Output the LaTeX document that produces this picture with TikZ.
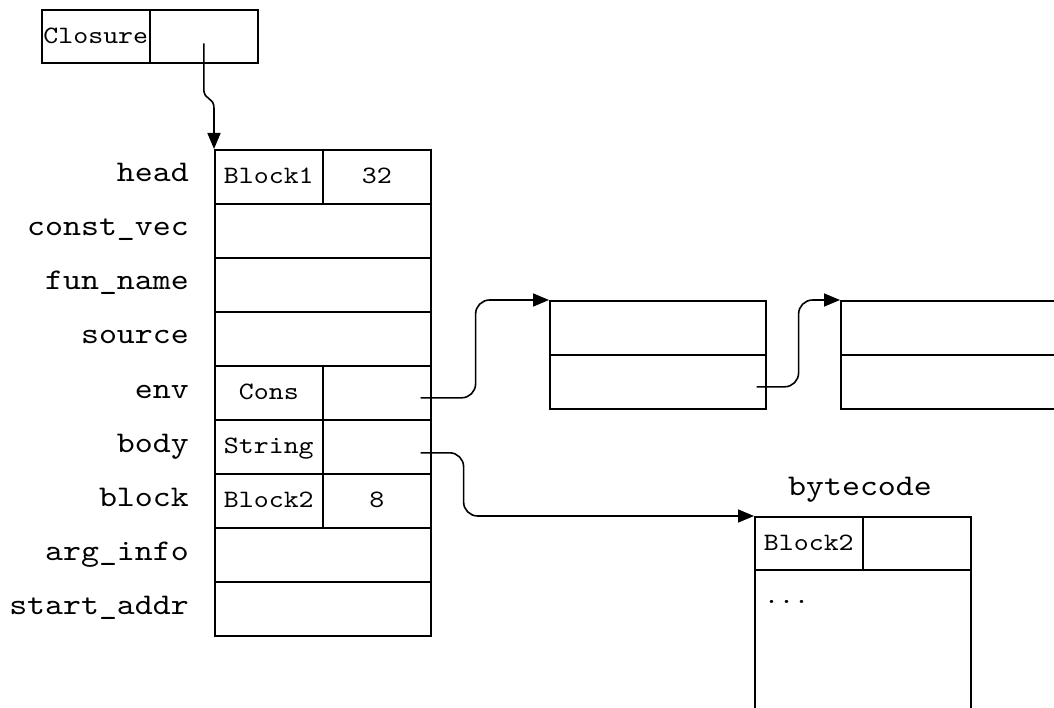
\documentclass[tikz,border=0pt]{standalone}
\usepackage{fontspec}
\setmonofont{lmmono10-regular.otf}[FakeStretch=1.14]
\usetikzlibrary{arrows.meta,calc}
\begin{document}
\begin{tikzpicture}[x=1pt,y=-1pt,
  cell/.style={draw,line width=1.6pt,inner sep=0pt,minimum width=108pt,minimum height=54pt,anchor=north west,font=\fontsize{25}{25}\selectfont\ttfamily,text height=14pt,text depth=0pt},
  wide/.style={cell,minimum width=216pt},
  lbl/.style={anchor=base east,inner sep=0pt,font=\fontsize{30}{30}\selectfont\ttfamily},
  link/.style={line width=1.6pt,-{Triangle[length=16pt,width=13pt]},rounded corners=14pt}]
\useasboundingbox (0,0) rectangle (1054,708);
\clip (0,0) rectangle (1054,708);
% Closure
\node[cell,minimum height=53pt] (closA) at (41,9) {Closure};
\node[cell,minimum height=53pt] (closB) at (149,9) {};
% main struct
\node[cell] (head1) at (214,149) {Block1};
\node[cell] (head2) at (322,149) {32};
\node[wide] (constvec) at (214,203) {};
\node[wide] (funname) at (214,257) {};
\node[wide] (source) at (214,311) {};
\node[cell] (env1) at (214,365) {Cons};
\node[cell] (env2) at (322,365) {};
\node[cell] (body1) at (214,419) {String};
\node[cell] (body2) at (322,419) {};
\node[cell] (blk1) at (214,473) {Block2};
\node[cell] (blk2) at (322,473) {8};
\node[wide] (arginfo) at (214,527) {};
\node[wide] (startaddr) at (214,581) {};
% labels
\node[lbl] (Lhead) at (189,182) {head};
\node[lbl] (Lconst) at (189,236) {const\_vec};
\node[lbl] (Lfun) at (189,290) {fun\_name};
\node[lbl] (Lsource) at (189,344) {source};
\node[lbl] (Lenv) at (189,398) {env};
\node[lbl] (Lbody) at (189,452) {body};
\node[lbl] (Lblock) at (189,506) {block};
\node[lbl] (Larg) at (189,560) {arg\_info};
\node[lbl] (Lstart) at (189,614) {start\_addr};
% cons lists
\node[wide] (l1a) at (549,300) {};
\node[wide] (l1b) at (549,354) {};
\node[wide,minimum width=240pt] (l2a) at (840,300) {};
\node[wide,minimum width=240pt] (l2b) at (840,354) {};
% bytecode
\node[lbl,anchor=base] (bclbl) at (860,495) {bytecode};
\node[cell,minimum height=53pt] (bc1) at (754,516) {Block2};
\node[cell,minimum height=53pt] (bc2) at (862,516) {};
\node[wide,minimum height=170pt] (bcbody) at (754,569) {};
\node[anchor=base west,inner sep=0pt,font=\fontsize{25}{25}\selectfont\ttfamily] (dots) at (764,603) {...};
% connectors
\coordinate (cstart) at ($(closB.center)+(0,7)$);
\coordinate (cmid) at ($(head1.north west)+(0,-40)$);
\draw[link,sharp corners] (cstart) -- ++(0,45) .. controls +(0,14) and +(0,-14) .. (cmid) -- (head1.north west);
\coordinate (estart) at ($(env2.east)+(-11,5)$);
\draw[link] (estart) -- ++(55,0) |- (l1a.north west);
\coordinate (bstart) at ($(body2.east)+(-11,6)$);
\draw[link] (bstart) -- ++(43,0) |- (bc1.north west);
\coordinate (lstart) at ($(l1b.east)+(-10,5)$);
\draw[link] (lstart) -- ++(42,0) |- (l2a.north west);
\end{tikzpicture}
\end{document}
